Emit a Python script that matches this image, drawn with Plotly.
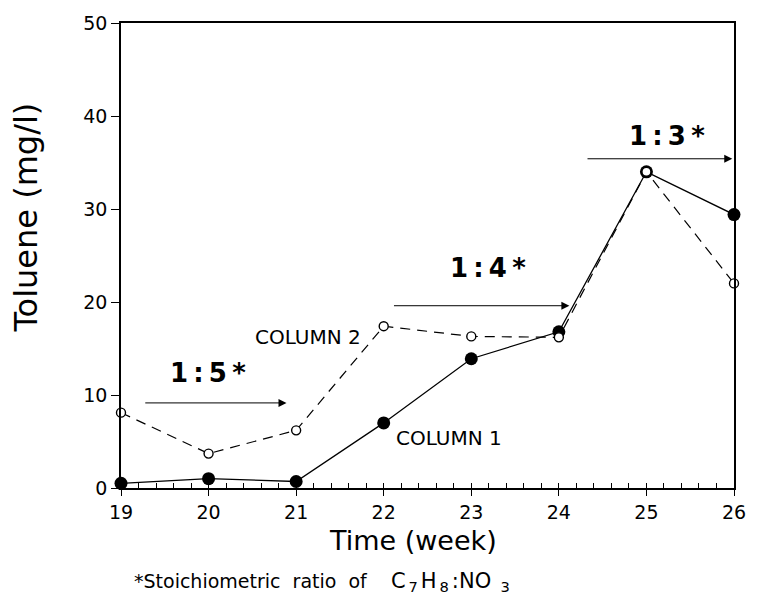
import plotly.graph_objects as go

weeks = [19, 20, 21, 22, 23, 24, 25, 26]
column1 = [0.5, 1.0, 0.7, 7.0, 13.9, 16.8, 34.0, 29.4]
column2 = [8.1, 3.7, 6.2, 17.4, 16.3, 16.2, 34.0, 22.0]

ratio_labels = ["1\u2009:\u20095\u2009*", "1\u2009:\u20094\u2009*", "1\u2009:\u20093\u2009*"]
arrow_start = [19.26, 22.1, 24.31]
arrow_end = [20.89, 24.12, 25.98]
arrow_y = [9.15, 19.6, 35.4]
label_x = [19.99, 23.19, 25.23]
label_y = [12.4, 23.7, 37.9]

series_labels = ["COLUMN 2", "COLUMN 1"]
series_label_x = [21.13, 22.74]
series_label_y = [16.2, 5.4]

footnote = ("*Stoichiometric&nbsp; ratio&nbsp; of&nbsp;&nbsp;&nbsp; "
            "<span style='font-size:21px'>C<sub>\u20097\u2009</sub>H<sub>\u20098\u2009</sub>"
            ":NO<sub>&nbsp;&nbsp;3</sub></span>")

FONT = "DejaVu Sans"
W, H = 758, 611
L, R, T, B = 121, 20, 18, 123
PW, PH = W - L - R, H - T - B


def px(xp):
    return (xp - L) / PW


def py(yp):
    return (H - B - yp) / PH


fig = go.Figure()
fig.add_trace(go.Scatter(
    x=weeks, y=column1, mode="lines+markers", cliponaxis=False,
    line=dict(color="black", width=1.3),
    marker=dict(symbol="circle", size=13, color="black"),
    showlegend=False))
fig.add_trace(go.Scatter(
    x=weeks, y=column2, mode="lines+markers", cliponaxis=False,
    line=dict(color="black", width=1.2, dash="10px,7px"),
    marker=dict(symbol="circle", size=9, color="white", line=dict(color="black", width=1.4)),
    showlegend=False))

for lab, xs, xe, ya, lx, ly in zip(ratio_labels, arrow_start, arrow_end, arrow_y, label_x, label_y):
    fig.add_annotation(x=xe, y=ya, ax=xs, ay=ya, xref="x", yref="y", axref="x", ayref="y",
                       showarrow=True, arrowhead=2, arrowsize=1.6, arrowwidth=1, arrowcolor="black", text="")
    fig.add_annotation(x=lx, y=ly, xref="x", yref="y", text="<b>" + lab + "</b>", showarrow=False,
                       font=dict(family=FONT, size=26, color="black"))

for lab, lx, ly in zip(series_labels, series_label_x, series_label_y):
    fig.add_annotation(x=lx, y=ly, xref="x", yref="y", text=lab, showarrow=False,
                       font=dict(family=FONT, size=20, color="black"))

fig.add_annotation(x=px(132), y=py(583), xref="paper", yref="paper",
                   xanchor="left", yanchor="middle", showarrow=False,
                   text=footnote, font=dict(family=FONT, size=19, color="black"))
fig.add_annotation(x=px(415), y=py(541), xref="paper", yref="paper",
                   xanchor="center", yanchor="middle", showarrow=False,
                   text="Time (week)", font=dict(family=FONT, size=27, color="black"))
fig.add_annotation(x=px(25), y=py(215), xref="paper", yref="paper", textangle=-90,
                   xanchor="center", yanchor="middle", showarrow=False,
                   text="Toluene (mg/l)", font=dict(family=FONT, size=32, color="black"))

fig.update_layout(
    width=W, height=H,
    margin=dict(l=L, r=R, t=T, b=B),
    paper_bgcolor="white", plot_bgcolor="white",
    font=dict(family=FONT, color="black"),
    xaxis=dict(range=[19, 26], tickvals=weeks, ticks="outside", ticklen=6, tickwidth=1,
               tickcolor="black", showline=True, linecolor="black", linewidth=1.5, mirror=True,
               showgrid=False, zeroline=False, tickfont=dict(size=19),
               minor=dict(dtick=0.2, ticks="inside", ticklen=5, tickcolor="black", showgrid=False)),
    yaxis=dict(range=[0, 50], tickvals=[0, 10, 20, 30, 40, 50], ticks="outside", ticklen=8,
               tickwidth=1, tickcolor="black", showline=True, linecolor="black", linewidth=1.5,
               mirror=True, showgrid=False, zeroline=False, tickfont=dict(size=19)),
)
fig.write_html("out.html")
